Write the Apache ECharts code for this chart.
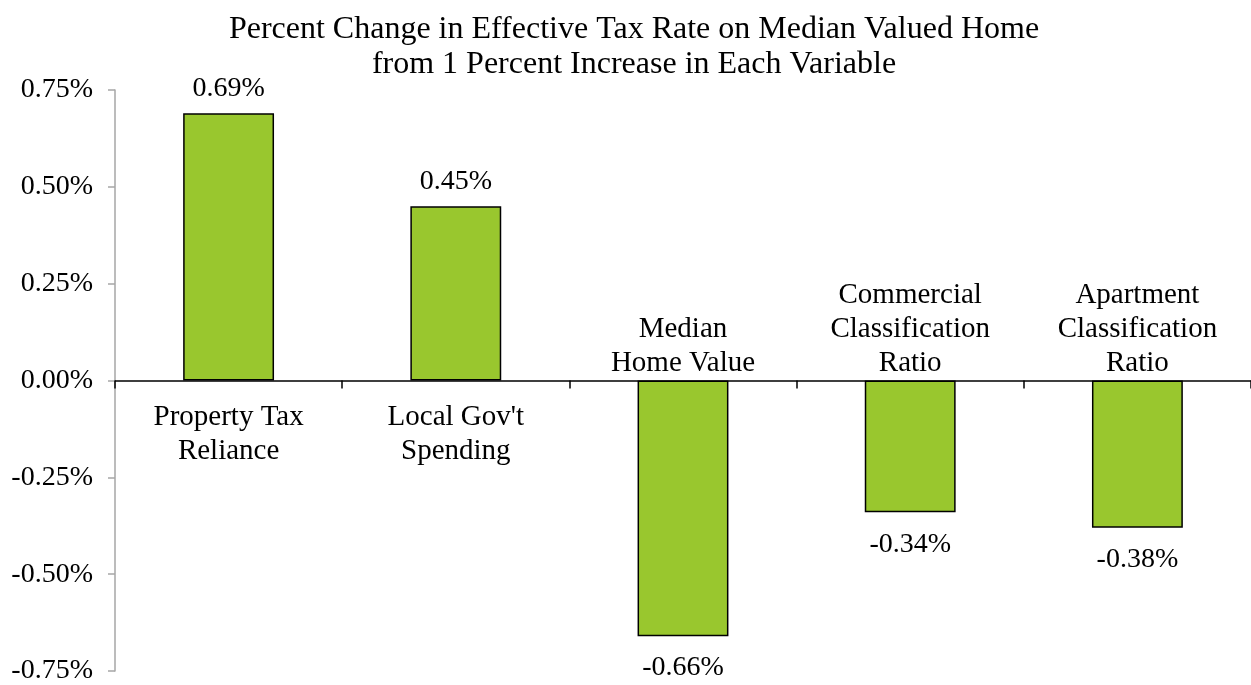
<!DOCTYPE html>
<html>
<head>
<meta charset="utf-8">
<script src="https://cdn.jsdelivr.net/npm/echarts@6/dist/echarts.min.js"></script>
<style>html,body{margin:0;padding:0;background:#fff}#c{width:1251px;height:685px}</style>
</head>
<body>
<div id="c"></div>
<script>
const categories = ["Property Tax\nReliance", "Local Gov't\nSpending", "Median\nHome Value", "Commercial\nClassification\nRatio", "Apartment\nClassification\nRatio"];
const values = [0.69, 0.45, -0.66, -0.34, -0.38];
const yTicks = [-0.75, -0.5, -0.25, 0, 0.25, 0.5, 0.75];
const titleText = "Percent Change in Effective Tax Rate on Median Valued Home\nfrom 1 Percent Increase in Each Variable";

const FONT = "Liberation Serif";
const chart = echarts.init(document.getElementById('c'));
chart.setOption({
  animation: false,
  textStyle: { fontFamily: FONT },
  title: {
    text: titleText,
    left: 629, top: 7, textAlign: 'center',
    textStyle: { fontFamily: FONT, fontSize: 32, fontWeight: 'normal', color: '#000', lineHeight: 35 }
  },
  grid: { left: 115, top: 90, width: 1138, height: 583, containLabel: false },
  xAxis: {
    type: 'category',
    data: categories,
    axisLine: { onZero: true, lineStyle: { color: '#000', width: 1.5 } },
    axisTick: { show: true, length: 8, lineStyle: { color: '#000', width: 1.5 } },
    axisLabel: { show: false },
    splitLine: { show: false }
  },
  yAxis: {
    type: 'value',
    min: yTicks[0], max: yTicks[yTicks.length - 1], interval: 0.25,
    axisLine: { show: true, lineStyle: { color: '#a6a6a6', width: 1.5 } },
    axisTick: { show: true, length: 7, lineStyle: { color: '#a6a6a6', width: 1.5 } },
    axisLabel: { margin: 22, fontFamily: FONT, fontSize: 28, color: '#000', formatter: v => v.toFixed(2) + '%' },
    splitLine: { show: false }
  },
  series: [
    {
      type: 'bar',
      barWidth: '40%',
      data: values.map(v => ({
        value: v,
        label: { position: v >= 0 ? 'top' : 'bottom', distance: v >= 0 ? 11 : 18 }
      })),
      itemStyle: { color: '#99c72e', borderColor: '#000', borderWidth: 1.5 },
      label: { show: true, fontFamily: FONT, fontSize: 28, color: '#000', formatter: p => p.value.toFixed(2) + '%' },
      z: 2
    },
    {
      type: 'scatter',
      symbolSize: 0,
      itemStyle: { opacity: 1 },
      data: values.map((v, i) => ({
        value: [i, 0],
        label: { position: v >= 0 ? 'bottom' : 'top', distance: v >= 0 ? 20 : 0 }
      })),
      label: { show: true, fontFamily: FONT, fontSize: 29, color: '#000', lineHeight: 34, align: 'center', formatter: p => categories[p.dataIndex] },
      silent: true,
      z: 3
    }
  ]
});
</script>
</body>
</html>
